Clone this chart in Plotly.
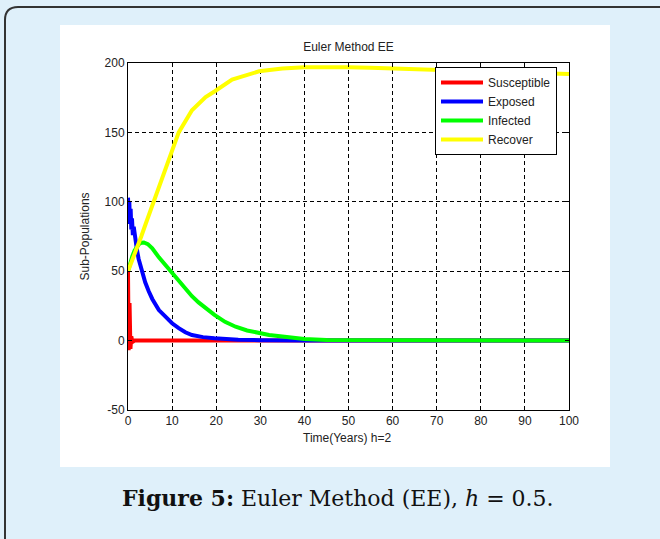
import plotly.graph_objects as go

# ---------------- data ----------------
t_susceptible = [0, 0.15, 0.35, 0.55, 0.75, 1.0, 1.5, 100]
v_susceptible = [50, -7, 27, -6, 3, -1, 0, 0]

t_exposed = [0, 0.15, 0.3, 0.45, 0.6, 0.75, 0.9, 1.1, 1.3, 1.6, 2.0, 2.4, 3.1, 3.9,
             4.7, 5.5, 7, 8, 9.2, 10, 11.5, 13, 14.5, 17, 19.6, 22, 25, 30, 35, 40, 100]
v_exposed = [103, 88, 100, 84, 95, 80, 88, 76, 82, 72, 66, 59, 50, 42,
             35.5, 30, 22, 18.5, 15, 12.5, 9, 6, 4, 2.5, 1.7, 1.1, 0.6, 0.3, 0.1, 0, 0]

t_infected = [0, 0.5, 1, 1.5, 2, 2.5, 3, 3.6, 4.5, 5.5, 7, 8.5, 9.8, 11, 12.3, 13.5,
              14.5, 16, 17.5, 19.6, 22, 24.4, 27, 29.7, 32, 35, 40, 45, 100]
v_infected = [50, 56, 61, 65, 67.5, 69.5, 70.5, 70.7, 69.5, 66.5, 60, 54.5, 49.6, 45, 40, 35.5,
              32, 27.5, 23.5, 18.5, 13.5, 10, 7.3, 5.3, 4, 2.9, 1.2, 0.4, 0]

t_recover = [0, 1, 2, 3, 4, 5.5, 7, 9.2, 11.5, 14.5, 17.6, 19.6, 23.6, 29.7, 35, 40,
             45, 50, 55, 60, 70, 80, 90, 100]
v_recover = [50, 58, 67, 75, 84, 97, 110, 130.5, 150, 166, 175.5, 179.5, 188, 194, 196, 197,
             197.3, 197, 196.5, 196, 194.5, 193.5, 192.8, 192]

series_names = ["Susceptible", "Exposed", "Infected", "Recover"]
series_colors = ["#ff0000", "#0000ff", "#00ff00", "#ffff00"]

x_ticks = [0, 10, 20, 30, 40, 50, 60, 70, 80, 90, 100]
y_ticks = [-50, 0, 50, 100, 150, 200]

title_text = "Euler Method EE"
x_title = "Time(Years) h=2"
y_title = "Sub-Populations"
caption = "<b>Figure 5:</b> Euler Method (EE), <i>h</i> = 0.5."

# ---------------- layout geometry ----------------
W, H = 660, 539
ML, MR, MT, MB = 128, 91, 63, 129
PW, PH = W - ML - MR, H - MT - MB


def px(x):
    return (x - ML) / PW


def py(y):
    return (H - MB - y) / PH


fig = go.Figure()
data = [(t_susceptible, v_susceptible), (t_exposed, v_exposed),
        (t_infected, v_infected), (t_recover, v_recover)]
for (tx, vy), name, col in zip(data, series_names, series_colors):
    fig.add_trace(go.Scatter(x=tx, y=vy, mode="lines", name=name,
                             line=dict(color=col, width=4)))

sans = "Liberation Sans, Arial, sans-serif"
axis_font = dict(family=sans, size=12, color="#222222")

fig.update_layout(
    width=W, height=H,
    margin=dict(l=ML, r=MR, t=MT, b=MB, pad=0),
    paper_bgcolor="#dff0fa",
    plot_bgcolor="#ffffff",
    showlegend=True,
    legend=dict(x=px(435), y=py(67), xanchor="left", yanchor="top",
                bgcolor="#ffffff", bordercolor="#000000", borderwidth=1,
                font=dict(family=sans, size=12, color="#222222"),
                itemwidth=42, tracegroupgap=0),
    title=dict(text=title_text, x=0.5, xref="paper", y=1 - 46.7 / H, yref="container",
               xanchor="center", yanchor="middle",
               font=dict(family=sans, size=12, color="#222222")),
    xaxis=dict(range=[0, 100], tickvals=x_ticks, ticktext=[str(v) for v in x_ticks],
               showgrid=True, gridcolor="#000000", gridwidth=1, griddash="4px,3px",
               zeroline=False, showline=True, linecolor="#000000", linewidth=1,
               mirror="ticks", ticks="inside", ticklen=4, tickcolor="#000000",
               tickfont=axis_font),
    yaxis=dict(range=[-50, 200], tickvals=y_ticks, ticktext=[str(v) for v in y_ticks],
               showgrid=True, gridcolor="#000000", gridwidth=1, griddash="4px,3px",
               zeroline=False, showline=True, linecolor="#000000", linewidth=1,
               mirror="ticks", ticks="inside", ticklen=4, tickcolor="#000000",
               tickfont=axis_font),
)

# white panel behind the chart and the rounded outer frame
border_path = (f"M {px(5)},{py(560)} L {px(5)},{py(20)} "
               f"Q {px(5)},{py(7)} {px(18)},{py(7)} L {px(680)},{py(7)}")
fig.update_layout(shapes=[
    dict(type="rect", xref="paper", yref="paper", x0=px(60), x1=px(610),
         y0=py(467), y1=py(25), fillcolor="#ffffff", line=dict(width=0), layer="below"),
    dict(type="path", xref="paper", yref="paper", path=border_path,
         line=dict(color="#333333", width=2), layer="below"),
])

fig.update_layout(annotations=[
    dict(text=x_title, xref="paper", yref="paper", x=px(347), y=py(438),
         xanchor="center", yanchor="middle", showarrow=False,
         font=dict(family=sans, size=12, color="#222222")),
    dict(text=y_title, xref="paper", yref="paper", x=px(84.5), y=py(237),
         xanchor="center", yanchor="middle", showarrow=False, textangle=-90,
         font=dict(family=sans, size=12, color="#222222")),
    dict(text=caption, xref="paper", yref="paper", x=px(338), y=py(498),
         xanchor="center", yanchor="middle", showarrow=False,
         font=dict(family="DejaVu Serif, Liberation Serif, serif", size=22, color="#111111")),
])

fig.write_html("out.html")
